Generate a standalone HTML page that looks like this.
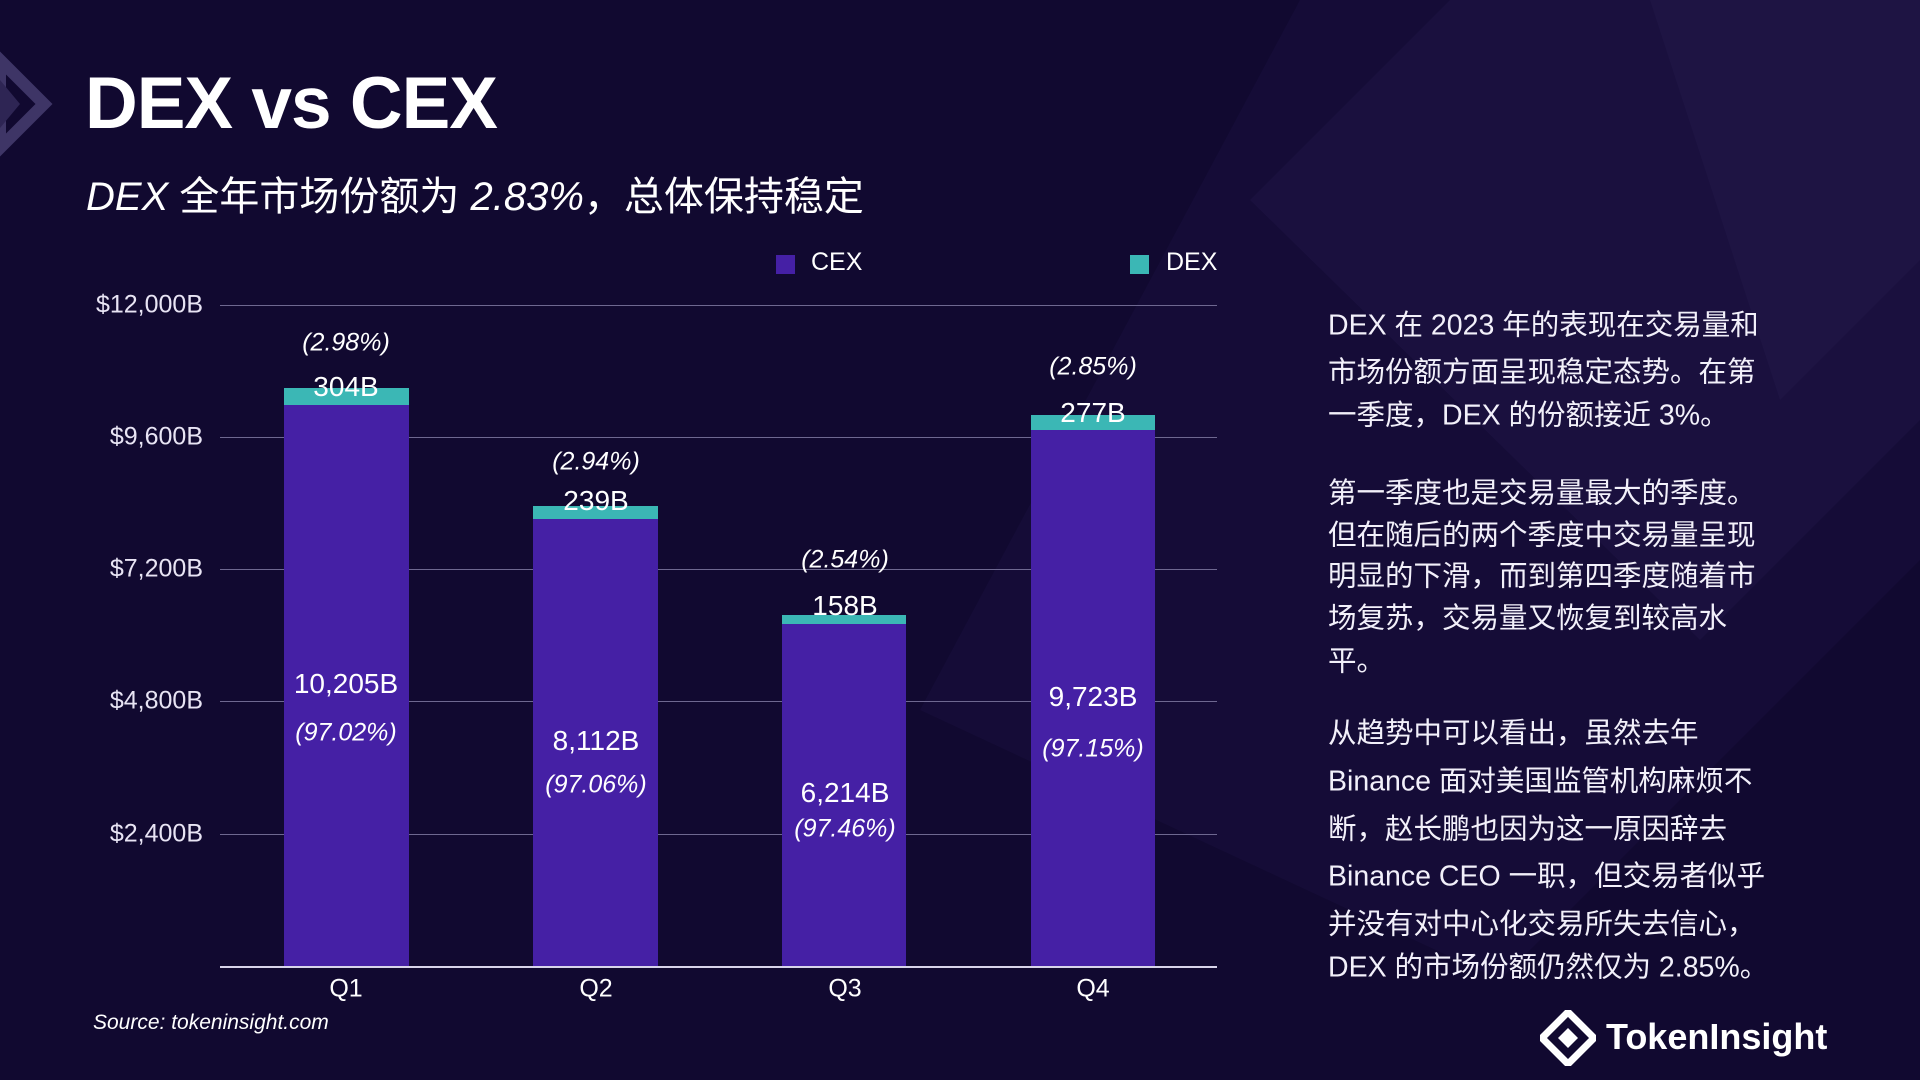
<!DOCTYPE html>
<html><head><meta charset="utf-8"><style>
*{margin:0;padding:0;box-sizing:border-box}
body{width:1920px;height:1080px;overflow:hidden;background:#110930;font-family:"Liberation Sans","Noto Sans CJK SC",sans-serif;color:#fff;position:relative}
.a{position:absolute;white-space:nowrap}
.c{transform:translate(-50%,-50%);text-align:center}
.yl{position:absolute;right:1717px;font-size:25px;color:#e8e4f4;transform:translateY(-50%)}
.g{position:absolute;left:220px;width:997px;height:1px;background:#6e6890}
.bar{position:absolute;background:#4520a5}
.dx{position:absolute;background:#3bb7b5}
.v{font-size:28px}
.p{font-size:25px;font-style:italic}
.r{position:absolute;left:1328px;font-size:28.5px;transform:translateY(-50%);color:#f2f0fa}
</style></head><body>
<svg class="a" style="left:0;top:0" width="1920" height="1080">
<polygon points="1300,0 1920,0 1920,560 1500,980 920,710" fill="#170e3a" opacity="0.8"/>
<polygon points="1450,0 1920,0 1920,420 1700,640 1250,200" fill="#1c1342" opacity="0.7"/>
<polygon points="1650,0 1920,0 1920,260 1780,400" fill="#221848" opacity="0.6"/>
<polygon points="0,60 44,104 0,148" fill="none" stroke="#3e3566" stroke-width="12"/>
<polygon points="0,80 20,104 0,128" fill="#2e2554"/>
</svg>
<div class="a" style="left:85px;top:62px;font-size:73px;font-weight:bold;letter-spacing:-1px">DEX vs CEX</div>
<div class="a" style="left:86px;top:164px;font-size:40px"><i>DEX</i> 全年市场份额为 <i>2.83%</i>，总体保持稳定</div>

<div class="a" style="left:776px;top:255px;width:19px;height:19px;background:#4520a5"></div>
<div class="a" style="left:811px;top:248px;font-size:25px">CEX</div>
<div class="a" style="left:1130px;top:255px;width:19px;height:19px;background:#3bb7b5"></div>
<div class="a" style="left:1166px;top:248px;font-size:25px">DEX</div>

<div class="g" style="top:305px"></div><div class="g" style="top:437px"></div><div class="g" style="top:569px"></div><div class="g" style="top:701px"></div><div class="g" style="top:834px"></div>
<div class="g" style="top:966px;height:2px;background:#d8d4ea"></div>
<div class="yl" style="top:305px">$12,000B</div>
<div class="yl" style="top:437px">$9,600B</div>
<div class="yl" style="top:569px">$7,200B</div>
<div class="yl" style="top:701px">$4,800B</div>
<div class="yl" style="top:834px">$2,400B</div>

<div class="bar" style="left:284px;width:125px;top:404px;height:562px"></div><div class="dx" style="left:284px;width:125px;top:388px;height:17px"></div>
<div class="bar" style="left:533px;width:125px;top:519px;height:447px"></div><div class="dx" style="left:533px;width:125px;top:506px;height:13px"></div>
<div class="bar" style="left:782px;width:124px;top:624px;height:342px"></div><div class="dx" style="left:782px;width:124px;top:615px;height:9px"></div>
<div class="bar" style="left:1031px;width:124px;top:430px;height:536px"></div><div class="dx" style="left:1031px;width:124px;top:415px;height:15px"></div>

<div class="a c p" style="left:346px;top:343px">(2.98%)</div><div class="a c v" style="left:346px;top:387px">304B</div>
<div class="a c v" style="left:346px;top:684px">10,205B</div><div class="a c p" style="left:346px;top:733px">(97.02%)</div>
<div class="a c p" style="left:596px;top:462px">(2.94%)</div><div class="a c v" style="left:596px;top:501px">239B</div>
<div class="a c v" style="left:596px;top:741px">8,112B</div><div class="a c p" style="left:596px;top:785px">(97.06%)</div>
<div class="a c p" style="left:845px;top:560px">(2.54%)</div><div class="a c v" style="left:845px;top:606px">158B</div>
<div class="a c v" style="left:845px;top:793px">6,214B</div><div class="a c p" style="left:845px;top:829px">(97.46%)</div>
<div class="a c p" style="left:1093px;top:367px">(2.85%)</div><div class="a c v" style="left:1093px;top:413px">277B</div>
<div class="a c v" style="left:1093px;top:697px">9,723B</div><div class="a c p" style="left:1093px;top:749px">(97.15%)</div>

<div class="a c" style="left:346px;top:989px;font-size:25px">Q1</div>
<div class="a c" style="left:596px;top:989px;font-size:25px">Q2</div>
<div class="a c" style="left:845px;top:989px;font-size:25px">Q3</div>
<div class="a c" style="left:1093px;top:989px;font-size:25px">Q4</div>
<div class="a" style="left:93px;top:1011px;font-size:21px;font-style:italic">Source: tokeninsight.com</div>

<div class="r" style="top:323px">DEX 在 2023 年的表现在交易量和</div>
<div class="r" style="top:370px">市场份额方面呈现稳定态势。在第</div>
<div class="r" style="top:413px">一季度，DEX 的份额接近 3%。</div>
<div class="r" style="top:491px">第一季度也是交易量最大的季度。</div>
<div class="r" style="top:533px">但在随后的两个季度中交易量呈现</div>
<div class="r" style="top:574px">明显的下滑，而到第四季度随着市</div>
<div class="r" style="top:616px">场复苏，交易量又恢复到较高水</div>
<div class="r" style="top:659px">平。</div>
<div class="r" style="top:731px">从趋势中可以看出，虽然去年</div>
<div class="r" style="top:779px">Binance 面对美国监管机构麻烦不</div>
<div class="r" style="top:827px">断，赵长鹏也因为这一原因辞去</div>
<div class="r" style="top:874px">Binance CEO 一职，但交易者似乎</div>
<div class="r" style="top:922px">并没有对中心化交易所失去信心，</div>
<div class="r" style="top:965px">DEX 的市场份额仍然仅为 2.85%。</div>

<svg class="a" style="left:1540px;top:1010px" width="56" height="56" viewBox="0 0 56 56">
<polygon points="28,2 54,28 28,54 2,28" fill="none" stroke="#fff" stroke-width="7"/>
<polygon points="28,18 38,28 28,38 18,28" fill="#fff"/>
</svg>
<div class="a" style="left:1606px;top:1016px;font-size:36px;font-weight:bold">TokenInsight</div>
</body></html>
